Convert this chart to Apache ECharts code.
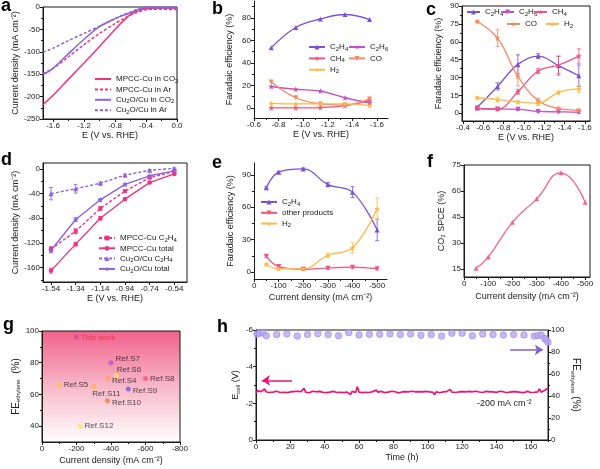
<!DOCTYPE html>
<html><head><meta charset="utf-8">
<script src="https://cdn.jsdelivr.net/npm/echarts@6/dist/echarts.min.js"></script>
<style>html,body{margin:0;padding:0;background:#fff}#c{width:600px;height:469px}</style>
</head><body><div id="c"></div>
<script>
// ================= DATA =================
// (a) LSV curves
const aE = [-1.73,-1.6,-1.4,-1.2,-1.0,-0.8,-0.7,-0.6,-0.5,-0.4,-0.3,-0.2,0];
const aMpccCO2 = [-218,-197,-161,-125,-88,-50,-32,-17,-8,-4,-3,-2.5,-2];
const aMpccAr  = [-149,-137,-111,-84,-59,-37,-27,-18,-11,-6,-5,-5,-6];
const aCuCO2   = [-151,-137,-104,-72,-44,-26,-19,-13,-6,-1.5,-1.5,-2,-2];
const aCuAr    = [-101,-92,-75,-59,-43,-26,-18,-11,-4,0,0,0,0];
const aXTicks = [-1.6,-1.2,-0.8,-0.4,0];
const aYTicks = [-250,-200,-150,-100,-50,0];
// (b) FE MPCC-Cu
const bE = [-0.74,-0.94,-1.14,-1.34,-1.54];
const bC2H4 = [53.5,71.5,79,83,78.5];
const bC2H6 = [19,16.5,15,9,4.5];
const bCH4  = [0,0,0.3,2,6.5];
const bCO   = [23,9,3.5,2.5,8];
const bH2   = [4,3.5,3.5,3.5,2];
const bXTicks = [-0.6,-0.8,-1.0,-1.2,-1.4,-1.6];
const bYTicks = [0,20,40,60,80];
// (c) FE Cu2O/Cu
const cE = [-0.54,-0.74,-0.94,-1.14,-1.34,-1.54];
const cC2H4 = [5,22.5,41,48,40,31.5];
const cC2H6 = [4,3.5,3.3,1.5,1.2,0.8];
const cCH4  = [4,3.5,18,35.5,40.5,48];
const cCO   = [77,63,31,10.5,4,2.5];
const cH2   = [13,11.5,9.5,8.5,17.5,20.5];
const cErrC2H4 = [1,3,8,2,8,9];
const cErrC2H6 = [1,1,1,1,1,1];
const cErrCH4  = [1,1,2,2,7,6];
const cErrCO   = [1,7,8,2,1,1];
const cErrH2   = [1,2,1,2,1,3];
const cXTicks = [-0.4,-0.6,-0.8,-1.0,-1.2,-1.4,-1.6];
const cYTicks = [0,15,30,45,60,75,90];
// (d) partial current densities
const dE = [-1.54,-1.34,-1.14,-0.94,-0.74,-0.54];
const dMpccC2H4  = [-130,-101,-64,-36,-14,-4];
const dMpccTotal = [-165,-122,-80,-49,-22,-8];
const dCuC2H4    = [-40,-32,-23,-10,-2,1];
const dCuTotal   = [-132,-82,-50,-25,-11,-3];
const dErrMpccC2H4 = [4,4,3,2,1,1];
const dErrMpccTotal = [4,3,3,2,1,1];
const dErrCuC2H4 = [10,7,2,2,1,1];
const dErrCuTotal = [4,3,2,2,1,1];
const dYTicks = [-160,-120,-80,-40,0];
// (e) FE vs current density
const eJ = [-50,-100,-200,-300,-400,-500];
const eC2H4  = [78,92.5,95.5,81,74,39];
const eOther = [14.5,5,2.5,3.5,4.5,3];
const eH2    = [7,3,3,15.5,22.5,58.5];
const eErrC2H4 = [1,1,1,2,5,10];
const eErrOther = [1,1,1,1,1,1];
const eErrH2 = [1,1,1,2,5,10];
const eXTicks = [0,-100,-200,-300,-400,-500];
const eYTicks = [0,30,60,90];
// (f) CO2 SPCE
const fJ = [-50,-100,-200,-300,-400,-500];
const fSPCE = [15.5,22,42,55.5,70.5,53.5];
const fYTicks = [15,30,45,60,75];
// (g) comparison
const gNames = ['This work','Ref.S7','Ref.S6','Ref.S4','Ref.S8','Ref.S5','Ref.S11','Ref.S9','Ref.S10','Ref.S12'];
const gJ  = [-200,-400,-430,-380,-600,-100,-300,-500,-380,-220];
const gFE = [96,80,72,70,70,66,65,63.5,56,40];
const gXTicks = [0,-200,-400,-600,-800];
const gYTicks = [40,60,80,100];
// (h) stability
const hEcell = [
 -2.55,-2.68,-2.60,-2.64,-2.58,-2.78,-2.62,-2.66,-2.59,-2.65,
 -2.61,-2.57,-2.66,-2.62,-2.59,-2.67,-2.60,-2.63,-2.58,-2.65,
 -2.62,-2.56,-2.64,-2.60,-2.66,-2.59,-2.63,-2.61,-2.82,-2.60,
 -2.64,-2.58,-2.62,-2.66,-2.59,-2.63,-2.57,-2.65,-2.61,-2.60,
 -2.66,-2.58,-2.63,-2.61,-2.57,-2.65,-2.62,-2.59,-2.66,-2.60,
 -2.63,-2.58,-2.64,-2.61,-2.60,-2.48,-2.65,-2.62,-2.59,-2.90,
 -2.61,-2.64,-2.58,-2.63,-2.60,-2.66,-2.59,-2.62,-2.64,-2.57,
 -2.72,-2.61,-2.59,-2.65,-2.62,-2.58,-2.64,-2.61,-2.60,-2.66,
 -2.59,-2.63,-2.61,-2.57,-2.65,-2.62,-2.60,-2.64,-2.58,-2.63,
 -2.61,-2.66,-2.59,-2.62,-2.60,-2.64,-2.58,-2.63,-2.61,-2.65,
 -2.59,-2.62,-2.64,-2.60,-2.47,-2.63,-2.61,-2.58,-2.65,-2.62,
 -2.60,-2.64,-2.58,-2.76,-2.61,-2.63,-2.59,-2.66,-2.62,-2.60,
 -2.64,-2.58,-2.62,-2.61,-2.65,-2.59,-2.63,-2.60,-2.66,-2.58,
 -2.62,-2.64,-2.59,-2.61,-2.65,-2.60,-2.63,-2.58,-2.62,-2.64,
 -2.60,-2.61,-2.66,-2.59,-2.63,-2.62,-2.58,-2.65,-2.61,-2.60,
 -2.64,-2.59,-2.62,-2.66,-2.60,-2.63,-2.58,-2.61,-2.65,-2.62,
 -2.59,-2.63,-2.60,-2.66,-2.62,-2.79,-2.61,-2.64,-2.70,-2.66,
 -2.84];
const hFEtime = [0.5,2,4,6,12,18,24,30,36,42,48,54,60,66,72,78,84,90,96,102,108,114,120,126,132,138,144,150,156,162,164,166,168,169,170];
const hFE = [96.4,97,97.3,94.8,95.8,96.4,94.5,95.8,96.7,95.8,94.8,97.6,95.5,96.1,96.1,96.4,95.8,96.4,95.2,95.8,94.5,97,97,94.8,96.4,95.8,95.5,95.8,95.5,94.5,94.8,95.5,92.4,90.9,88.8];
const hXTicks = [0,20,40,60,80,100,120,140,160];
const hYLTicks = [-6,-4,-2,0];
const hYRTicks = [0,20,40,60,80,100];

// ================= STYLE / BUILD =================
const AX='#1a1a1a', TXT='#1a1a1a';
const FONT='Arial, "Liberation Sans", Helvetica, sans-serif';
const PINK='#F5317F', PURP='#8B62E0';
const C_C2H4='#7A52D8', C_C2H6='#C550C8', C_CH4='#F4527F', C_CO='#F7875F', C_H2='#FDBB45';
const TRI='triangle';
const DTRI='path://M0,0L10,0L5,9Z';
const STAR='path://M5,0L6.2,3.5L10,3.6L7,5.9L8.1,9.6L5,7.4L1.9,9.6L3,5.9L0,3.6L3.8,3.5Z';
const SUBMAP={'₀':'0','₁':'1','₂':'2','₃':'3','₄':'4','₅':'5','₆':'6','₇':'7','₈':'8','₉':'9'};
const toRich=s=>s.replace(/[₀-₉]+/g,m=>'{s|'+m.split('').map(c=>SUBMAP[c]).join('')+'}');
const neg=a=>a.map(v=>0-v+0);
const negFmt=v=>Math.abs(v)<1e-6?'0':String(-v);

const grids=[], xAxes=[], yAxes=[], series=[], legends=[], graphics=[], zeroLabels=[];
function grid(l,t,w,h,frame,bg){
  grids.push({left:l,top:t,width:w,height:h,show:!!(frame||bg),borderColor:frame?AX:'transparent',borderWidth:frame?1:0,backgroundColor:bg||'transparent'});
  return grids.length-1;
}
function mids(a){const r=[];for(let i=0;i<a.length-1;i++)r.push((a[i]+a[i+1])/2);return r;}
function axis(dim,g,o){
  const list=dim==='x'?xAxes:yAxes;
  const base={type:'value',gridIndex:g,min:o.min,max:o.max,inverse:!!o.inverse,splitLine:{show:false},position:o.position||(dim==='x'?'bottom':'left')};
  let labVals=o.major;
  if(o.zeroSep){labVals=o.major.filter(v=>Math.abs(v)>1e-9);}
  list.push(Object.assign({},base,{
    axisLine:{show:true,onZero:false,lineStyle:{color:AX,width:1}},
    axisTick:{show:true,inside:false,length:3,lineStyle:{color:AX,width:1},customValues:o.major},
    axisLabel:{show:true,customValues:labVals,formatter:o.fmt||(v=>String(v)),fontSize:8,color:TXT,margin:3,fontFamily:FONT,
      hideOverlap:false,showMinLabel:true,showMaxLabel:true},
    name:o.name||'',nameLocation:'middle',nameGap:o.gap||14,nameRotate:o.nameRotate,
    nameTextStyle:{fontSize:9,color:TXT,fontFamily:FONT,rich:o.rich}
  }));
  const idx=list.length-1;
  if(o.zeroSep) zeroLabels.push({axisIndex:idx,grid:g});
  if(o.minor){
    list.push(Object.assign({},base,{axisLine:{show:false,onZero:false},axisLabel:{show:false},
      axisTick:{show:true,length:2,lineStyle:{color:AX,width:1},customValues:o.minor},name:''}));
  }
  return idx;
}
function line(name,xi,yi,xs,ys,color,o={}){
  series.push({type:'line',name,xAxisIndex:xi,yAxisIndex:yi,data:xs.map((x,i)=>[x,ys[i]]),
    smooth:o.smooth||false,symbol:o.symbol||'none',showSymbol:!!o.symbol,symbolSize:o.size||5,
    lineStyle:{color,width:o.width||1.3,type:o.dash?[3,2]:'solid'},itemStyle:{color},z:5,animation:false,emphasis:{disabled:true}});
}
function err(xi,yi,xs,ys,es,color){
  series.push({type:'custom',xAxisIndex:xi,yAxisIndex:yi,silent:true,z:4,animation:false,
    data:xs.map((x,i)=>[x,ys[i]-es[i],ys[i]+es[i]]),encode:{x:0,y:[1,2]},
    renderItem:(p,api)=>{
      const lo=api.coord([api.value(0),api.value(1)]),hi=api.coord([api.value(0),api.value(2)]),w=2;
      const st={stroke:color,lineWidth:0.8};
      return {type:'group',children:[
        {type:'line',shape:{x1:lo[0],y1:lo[1],x2:hi[0],y2:hi[1]},style:st},
        {type:'line',shape:{x1:lo[0]-w,y1:lo[1],x2:lo[0]+w,y2:lo[1]},style:st},
        {type:'line',shape:{x1:hi[0]-w,y1:hi[1],x2:hi[0]+w,y2:hi[1]},style:st}]};
    }});
}
function legend(names,left,top,gap,o={}){
  const lg={data:names,left,top,orient:o.orient||'vertical',itemGap:gap,itemWidth:o.iw||16,itemHeight:o.ih||6,padding:0,
    selectedMode:false,formatter:n=>toRich(n.split('|')[1]),
    textStyle:{fontSize:8,color:TXT,fontFamily:FONT,lineHeight:10,
      rich:{s:{fontSize:6,fontFamily:FONT,color:TXT,verticalAlign:'bottom',lineHeight:10,padding:[3,0,0,0]}}}};
  if(o.noSymbol) lg.itemStyle={opacity:0};
  legends.push(lg);
}
function label(t,x,y){graphics.push({type:'text',left:x,top:y,z:100,style:{text:t,fontSize:18,fontWeight:'bold',fill:'#000',fontFamily:FONT}});}
const f1=v=>v.toFixed(1), f2=v=>v.toFixed(2);
const CD='Current density (mA cm⁻²)';

// ---- (a)
let g=grid(43,7,134,112,true);
let xi=axis('x',g,{min:-1.73,max:0,major:aXTicks,minor:mids(aXTicks),fmt:f1,name:'E (V vs. RHE)',gap:12});
let yi=axis('y',g,{min:-250,max:0,major:aYTicks,minor:mids(aYTicks),name:CD,gap:21});
line('a|MPCC-Cu in CO₂',xi,yi,aE,aMpccCO2,PINK,{smooth:0.3,width:1.5});
line('a|MPCC-Cu in Ar',xi,yi,aE,aMpccAr,PINK,{smooth:0.3,dash:true,width:1.5});
line('a|Cu₂O/Cu in CO₂',xi,yi,aE,aCuCO2,PURP,{smooth:0.3,width:1.5});
line('a|Cu₂O/Cu in Ar',xi,yi,aE,aCuAr,PURP,{smooth:0.3,dash:true,width:1.5});
legend(['a|MPCC-Cu in CO₂','a|MPCC-Cu in Ar','a|Cu₂O/Cu in CO₂','a|Cu₂O/Cu in Ar'],94,74,0.4,{noSymbol:true});

// ---- (b)
g=grid(254,1,134,117,false);
xi=axis('x',g,{min:-1.69,max:-0.6,inverse:true,major:bXTicks,minor:mids(bXTicks),fmt:f1,name:'E (V vs. RHE)',gap:12});
yi=axis('y',g,{min:-9,max:95,major:bYTicks,minor:[10,30,50,70,90],name:'Faradaic efficiency (%)',gap:20});
line('b|C₂H₄',xi,yi,bE,bC2H4,C_C2H4,{smooth:0.4,symbol:TRI,size:5});
line('b|C₂H₆',xi,yi,bE,bC2H6,C_C2H6,{smooth:0.4,symbol:STAR,size:6});
line('b|CH₄',xi,yi,bE,bCH4,C_CH4,{smooth:0.4,symbol:STAR,size:6});
line('b|CO',xi,yi,bE,bCO,C_CO,{smooth:0.4,symbol:DTRI,size:5});
line('b|H₂',xi,yi,bE,bH2,C_H2,{smooth:0.4,symbol:STAR,size:6});
legend(['b|C₂H₄','b|CH₄','b|H₂'],308,42,1.4);
legend(['b|C₂H₆','b|CO'],348,42,1.4);

// ---- (c)
g=grid(462,6,128,115,true);
xi=axis('x',g,{min:-1.65,max:-0.39,inverse:true,major:cXTicks,minor:mids(cXTicks),fmt:f1,name:'E (V vs. RHE)',gap:12});
yi=axis('y',g,{min:-6.5,max:90,major:cYTicks,minor:mids(cYTicks),name:'Faradaic efficiency (%)',gap:19});
err(xi,yi,cE,cC2H4,cErrC2H4,C_C2H4);
err(xi,yi,cE,cC2H6,cErrC2H6,C_C2H6);
err(xi,yi,cE,cCH4,cErrCH4,C_CH4);
err(xi,yi,cE,cCO,cErrCO,C_CO);
err(xi,yi,cE,cH2,cErrH2,C_H2);
line('c|C₂H₄',xi,yi,cE,cC2H4,C_C2H4,{smooth:0.4,symbol:TRI,size:5});
line('c|C₂H₆',xi,yi,cE,cC2H6,C_C2H6,{smooth:0.4,symbol:DTRI,size:5});
line('c|CH₄',xi,yi,cE,cCH4,C_CH4,{smooth:0.4,symbol:STAR,size:6});
line('c|CO',xi,yi,cE,cCO,C_CO,{smooth:0.4,symbol:STAR,size:6});
line('c|H₂',xi,yi,cE,cH2,C_H2,{smooth:0.4,symbol:STAR,size:6});
legend(['c|C₂H₄'],466,7,0,{iw:13});
legend(['c|C₂H₆'],500,7,0,{iw:13});
legend(['c|CH₄'],533,7,0,{iw:13});
legend(['c|CO'],506,19,0,{iw:13});
legend(['c|H₂'],545,19,0,{iw:13});

// ---- (d)
g=grid(43,163,144,119,true);
xi=axis('x',g,{min:-1.605,max:-0.437,major:dE,fmt:f2,name:'E (V vs. RHE)',gap:12});
yi=axis('y',g,{min:-183.5,max:9.8,major:dYTicks,minor:[-180,-140,-100,-60,-20],name:CD,gap:22});
err(xi,yi,dE,dMpccC2H4,dErrMpccC2H4,PINK);
err(xi,yi,dE,dMpccTotal,dErrMpccTotal,PINK);
err(xi,yi,dE,dCuC2H4,dErrCuC2H4,PURP);
err(xi,yi,dE,dCuTotal,dErrCuTotal,PURP);
line('d|MPCC-Cu C₂H₄',xi,yi,dE,dMpccC2H4,PINK,{dash:true,symbol:'rect',size:4,width:1.4});
line('d|MPCC-Cu total',xi,yi,dE,dMpccTotal,PINK,{symbol:'circle',size:4.5,width:1.4});
line('d|Cu₂O/Cu C₂H₄',xi,yi,dE,dCuC2H4,PURP,{dash:true,symbol:TRI,size:5,width:1.4});
line('d|Cu₂O/Cu total',xi,yi,dE,dCuTotal,PURP,{symbol:STAR,size:6,width:1.4});
legend(['d|MPCC-Cu C₂H₄','d|MPCC-Cu total','d|Cu₂O/Cu C₂H₄','d|Cu₂O/Cu total'],98,233,0.3);

// ---- (e)  (x plotted as |j|, labelled negative)
g=grid(254,163,133,116,false);
xi=axis('x',g,{min:0,max:540,major:neg(eXTicks),minor:mids(neg(eXTicks)),fmt:negFmt,name:CD,gap:14,zeroSep:true});
yi=axis('y',g,{min:-6.5,max:101,major:eYTicks,minor:mids(eYTicks),name:'Faradaic efficiency (%)',gap:19});
err(xi,yi,neg(eJ),eC2H4,eErrC2H4,C_C2H4);
err(xi,yi,neg(eJ),eOther,eErrOther,C_CH4);
err(xi,yi,neg(eJ),eH2,eErrH2,C_H2);
line('e|C₂H₄',xi,yi,neg(eJ),eC2H4,C_C2H4,{smooth:0.4,symbol:TRI,size:5});
line('e|other products',xi,yi,neg(eJ),eOther,C_CH4,{smooth:0.4,symbol:DTRI,size:5});
line('e|H₂',xi,yi,neg(eJ),eH2,C_H2,{smooth:0.4,symbol:STAR,size:6});
legend(['e|C₂H₄','e|other products','e|H₂'],260,197,0.8);

// ---- (f)
g=grid(464,165,126,112,true);
xi=axis('x',g,{min:0,max:520,major:neg(eXTicks),minor:mids(neg(eXTicks)),fmt:negFmt,name:CD,gap:15,zeroSep:true});
yi=axis('y',g,{min:10.5,max:75,major:fYTicks,name:'CO₂ SPCE (%)',gap:18});
line('f|SPCE',xi,yi,neg(fJ),fSPCE,'#F7628E',{smooth:0.5,symbol:TRI,size:5});

// ---- (g)
const gColors=['#E0459A','#C04FCF','#FFE84A','#FFA25A','#F5507A','#FDC24A','#FFB347','#6E5BD5','#F77A4A','#FFE56A'];
const gOffsets=[[0,0],[0,-4],[-4,-6],[0,2],[0,0],[0,0],[-6,7],[0,2],[0,2],[0,0]];
const gBg={type:'linear',x:0,y:0,x2:0,y2:1,colorStops:[{offset:0,color:'#F0618A'},{offset:0.5,color:'#F8B8C9'},{offset:1,color:'#FFFFFF'}]};
g=grid(42,331,138,111,true,gBg);
xi=axis('x',g,{min:0,max:800,major:neg(gXTicks),minor:mids(neg(gXTicks)),fmt:negFmt,name:CD,gap:14});
yi=axis('y',g,{min:30,max:100,major:gYTicks,minor:mids(gYTicks),name:'{a|FE}{s|ethylene}{a|  (%)}',gap:16,
  rich:{a:{fontSize:10,fontFamily:FONT,color:TXT},s:{fontSize:6,fontFamily:FONT,color:TXT,verticalAlign:'bottom',padding:[6,0,0,0]}}});
series.push({type:'scatter',xAxisIndex:xi,yAxisIndex:yi,symbolSize:5,z:5,animation:false,
  data:gNames.map((n,i)=>({name:n,value:[-gJ[i],gFE[i]],itemStyle:{color:gColors[i]},
    label:{show:true,position:'right',distance:2,offset:gOffsets[i],formatter:'{b}',fontSize:8,fontFamily:FONT,color:i===0?'#FF2040':TXT}}))});

// ---- (h)
g=grid(256,330,292,110,true);
xi=axis('x',g,{min:0,max:170,major:hXTicks,minor:[10,30,50,70,90,110,130,150,170],name:'Time (h)',gap:13});
yi=axis('y',g,{min:-6,max:0,inverse:true,major:hYLTicks,minor:[-5,-3,-1],name:'{a|E}{s|cell}{a| (V)}',gap:15,
  rich:{a:{fontSize:9,fontFamily:FONT,color:TXT},s:{fontSize:6,fontFamily:FONT,color:TXT,verticalAlign:'bottom',padding:[5,0,0,0]}}});
const yr=axis('y',g,{min:0,max:100,position:'right',major:hYRTicks,minor:mids(hYRTicks),name:'{a|FE}{s|ethylene}{a| (%)}',gap:22,nameRotate:-90,
  rich:{a:{fontSize:10,fontFamily:FONT,color:TXT},s:{fontSize:6,fontFamily:FONT,color:TXT,verticalAlign:'bottom',padding:[6,0,0,0]}}});
series.push({type:'line',xAxisIndex:xi,yAxisIndex:yi,showSymbol:false,symbol:'none',animation:false,z:4,
  data:hEcell.map((v,i)=>[i,v]),lineStyle:{color:'#F0127A',width:1.7},
  markLine:{silent:true,symbol:['none','arrow'],symbolSize:8,label:{show:false},lineStyle:{color:'#F0127A',width:1.5,type:'solid'},
    data:[[{coord:[21,-3.25]},{coord:[3.5,-3.25]}]]}});
series.push({type:'scatter',xAxisIndex:xi,yAxisIndex:yr,symbolSize:6.5,z:5,animation:false,
  data:hFEtime.map((t,i)=>[t,hFE[i]]),itemStyle:{color:'#B9A6EF',borderColor:'#9D86E2',borderWidth:0.8},
  markLine:{silent:true,symbol:['none','arrow'],symbolSize:8,label:{show:false},lineStyle:{color:'#7D5CD6',width:1.5,type:'solid'},
    data:[[{coord:[148,82]},{coord:[167,82]}]]}});
graphics.push({type:'text',left:477,top:399,z:100,style:{text:'-200 mA cm⁻²',fontSize:9,fill:TXT,fontFamily:FONT}});

// panel labels
label('a',1,-3); label('b',212,0); label('c',426,1);
label('d',1,151); label('e',212,154); label('f',427,153);
label('g',3,316); label('h',217,318);

const chart=echarts.init(document.getElementById('c'),null,{renderer:'canvas'});
chart.setOption({animation:false,backgroundColor:'#fff',grid:grids,xAxis:xAxes,yAxis:yAxes,series,legend:legends,graphic:graphics});
// "0" tick labels of (e) and (f), positioned through the axis scale
zeroLabels.forEach(z=>{
  let px=chart.convertToPixel({xAxisIndex:z.axisIndex},0);
  if(Array.isArray(px)) px=px[0];
  const gr=grids[z.grid];
  if(!isFinite(px)) px=gr.left;
  graphics.push({type:'text',left:Math.round(px-2.5),top:gr.top+gr.height+3,z:100,
    style:{text:'0',fontSize:8,fill:TXT,fontFamily:FONT}});
});
chart.setOption({graphic:graphics});
</script></body></html>
